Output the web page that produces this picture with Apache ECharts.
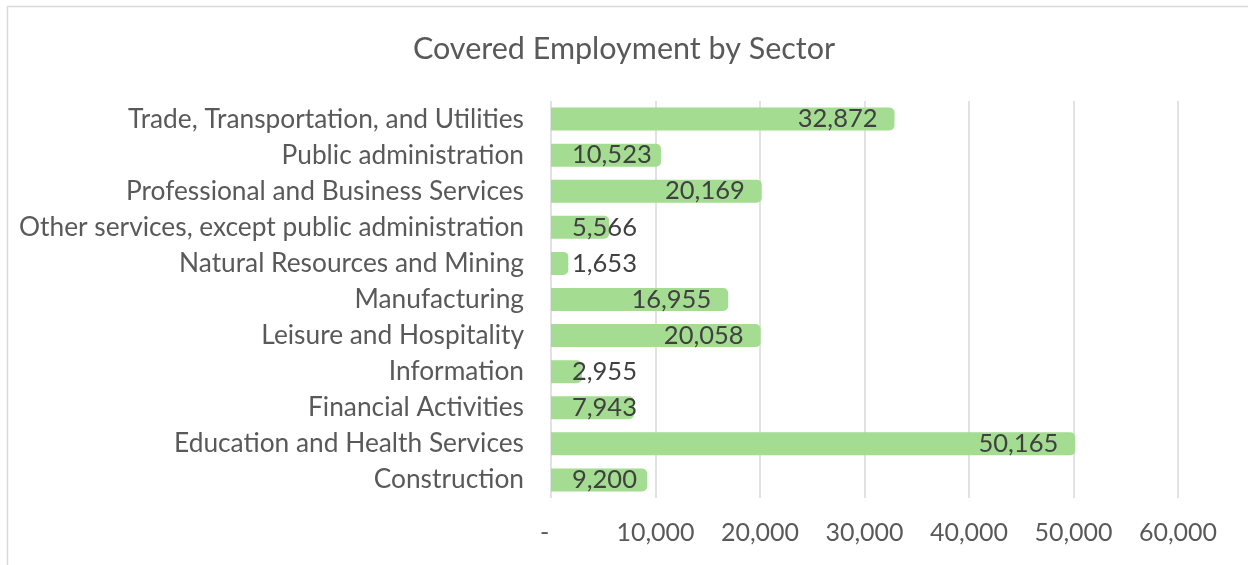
<!DOCTYPE html>
<html>
<head>
<meta charset="utf-8">
<script src="https://cdn.jsdelivr.net/npm/echarts@6/dist/echarts.min.js"></script>
<style>
  html, body { margin: 0; padding: 0; background: #fff; }
  #chart { width: 1248px; height: 565px; }
</style>
</head>
<body>
<div id="chart"></div>
<script>
// sectors, bottom to top as the y axis draws them
var sectors = [
    'Construction',
    'Education and Health Services',
    'Financial Activities',
    'Information',
    'Leisure and Hospitality',
    'Manufacturing',
    'Natural Resources and Mining',
    'Other services, except public administration',
    'Professional and Business Services',
    'Public administration',
    'Trade, Transportation, and Utilities'
]
var employment = [9200, 50165, 7943, 2955, 20058, 16955, 1653, 5566, 20169, 10523, 32872]
var axisTicks = [0, 10000, 20000, 30000, 40000, 50000, 60000]

var textColor = '#595959'
var fontName = 'Lato'
// short bars get their label pinned near the base, like Excel does
var shortBar = 12000

var barData = employment.map(function(v) {
    return {
        value: v,
        label: v < shortBar ? { position: 'insideLeft', distance: 21 } : { position: 'insideRight', distance: 17 }
    }
})

var option = {
    animation: false,
    backgroundColor: '#fff',
    title: {
        text: 'Covered Employment by Sector',
        left: 'center',
        top: 29,
        textStyle: { color: textColor, fontFamily: fontName, fontWeight: 'normal', fontSize: 30.5 }
    },
    graphic: [{
        type: 'rect',
        shape: { x: 7.5, y: 6.5, width: 1400, height: 700 },
        style: { fill: 'none', stroke: '#d9d9d9', lineWidth: 1.5 },
        silent: true
    }],
    grid: { left: 551, right: 70, top: 101, bottom: 67, containLabel: false },
    xAxis: {
        type: 'value',
        min: axisTicks[0],
        max: axisTicks[axisTicks.length - 1],
        interval: axisTicks[1] - axisTicks[0],
        axisLine: { show: false },
        axisTick: { show: false },
        splitLine: { show: true, lineStyle: { color: '#d9d9d9', width: 1.5 } },
        axisLabel: {
            color: textColor, fontFamily: fontName, fontSize: 25, margin: 22,
            formatter: function(v) { return v === 0 ? '-  ' : v.toLocaleString('en-US') }
        }
    },
    yAxis: {
        type: 'category',
        data: sectors,
        axisLine: { show: false },
        axisTick: { show: false },
        axisLabel: { color: textColor, fontFamily: fontName, fontSize: 26.3, margin: 27 }
    },
    series: [{
        type: 'bar',
        data: barData,
        barWidth: 23,
        itemStyle: { color: '#a4dc91', borderRadius: [0, 5, 5, 0] },
        label: {
            show: true,
            color: '#404040',
            fontFamily: fontName,
            fontSize: 25.5,
            formatter: function(p) { return p.value.toLocaleString('en-US') }
        }
    }]
}

var myChart = echarts.init(document.getElementById('chart'))
myChart.setOption(option)
</script>
</body>
</html>
